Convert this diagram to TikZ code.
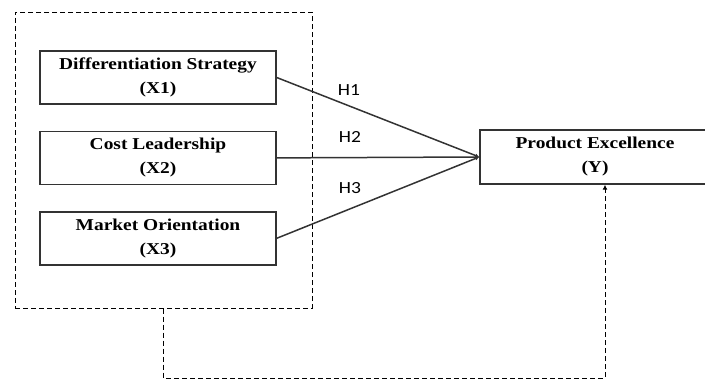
\documentclass[tikz,border=0pt]{standalone}
\usepackage{fontspec}
\setmainfont{Liberation Serif}[FakeStretch=1.17]
\newfontfamily\hfont{Carlito}[FakeStretch=1.15]
\usetikzlibrary{arrows.meta,positioning,calc}
\definecolor{boxline}{HTML}{333333}

\begin{document}
\begin{tikzpicture}[
x=1pt,y=-1pt,
node distance=26pt and 20pt,
var/.style={draw=boxline,line width=1.4pt,align=center,
font=\fontsize{16.6}{24}\selectfont\bfseries,
minimum height=53pt,minimum width=236pt,inner sep=0pt},
grp/.style={draw,dashed,dash pattern=on 5pt off 3pt,line width=1pt},
hyp/.style={-{Latex[length=4pt,width=4pt]},line width=1.5pt,draw=boxline},
hlab/.style={font=\hfont\fontsize{17}{17}\selectfont}
]
\useasboundingbox (0,0) rectangle (705,380);

\node[var] (x1) at (158,77.5) {Differentiation Strategy \\ (X1)};
\node[var,below=of x1] (x2) {Cost Leadership \\ (X2)};
\node[var,below=of x2] (x3) {Market Orientation \\ (X3)};
\node[var,minimum width=230pt,minimum height=54pt] (y) at (595,157) {Product Excellence \\ (Y)};

\node[grp,minimum width=297pt,minimum height=296pt] (box) at (163.5,160) {};
\coordinate (yin) at ($(y.south)+(10,0)$);
\coordinate (bend) at (yin |- 0,378);

\draw[hyp] (x1.east) -- (y.west);
\draw[hyp] (x2.east) -- (y.west);
\draw[hyp] (x3.east) -- (y.west);

\node[hlab] (h1) at (349,90) {H1};
\node[hlab] (h2) at (350,137) {H2};
\node[hlab] (h3) at (350,188) {H3};

\draw[grp,-{Latex[length=5pt,width=5pt]}] (box.south) |- (bend) -- (yin);
\end{tikzpicture}
\end{document}
